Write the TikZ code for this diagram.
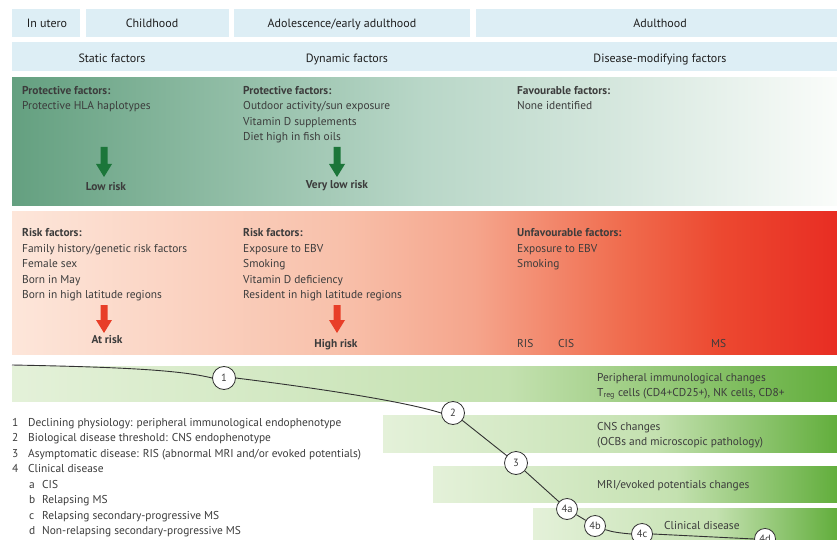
\documentclass[tikz,border=0pt]{standalone}
\usepackage{fontspec}
\setmainfont{PT Sans}
\usetikzlibrary{calc}
\definecolor{hdr}{RGB}{221,238,245}
\definecolor{hdrtxt}{RGB}{30,30,30}
\definecolor{txt}{RGB}{60,60,60}
\definecolor{gp1}{RGB}{100,160,128}
\definecolor{gp2}{RGB}{185,215,200}
\definecolor{gp3}{RGB}{250,252,250}
\definecolor{rp1}{RGB}{253,230,218}
\definecolor{rp2}{RGB}{248,192,170}
\definecolor{rp3}{RGB}{245,165,140}
\definecolor{rp4}{RGB}{240,108,78}
\definecolor{rp5}{RGB}{236,72,48}
\definecolor{rp6}{RGB}{232,45,35}
\definecolor{gb1}{RGB}{228,241,217}
\definecolor{gb2}{RGB}{196,225,176}
\definecolor{gb3}{RGB}{98,174,60}
\definecolor{garrow}{RGB}{28,118,58}
\definecolor{rarrow}{RGB}{232,62,40}
\definecolor{curve}{RGB}{50,50,50}
\pgfdeclarehorizontalshading{gpanel}{100bp}{color(0bp)=(gp1); color(25bp)=(gp1); color(50bp)=(gp2); color(62bp)=(gp2!55!gp3); color(75bp)=(gp3); color(100bp)=(gp3)}
\pgfdeclarehorizontalshading{rpanel}{100bp}{color(0bp)=(rp1); color(25bp)=(rp1); color(45bp)=(rp2); color(53bp)=(rp3); color(62bp)=(rp4); color(68bp)=(rp5); color(75bp)=(rp6); color(100bp)=(rp6)}
\pgfdeclarehorizontalshading{gbar}{100bp}{color(0bp)=(gb1); color(25bp)=(gb1); color(55bp)=(gb2); color(75bp)=(gb3); color(100bp)=(gb3)}
\newcommand\hfont{\fontsize{12}{14}\selectfont}
\newcommand\bfont{\fontsize{11.4}{13}\selectfont}
\newcommand\cfont{\fontsize{10.5}{12}\selectfont}
\begin{document}
\begin{tikzpicture}[x=1pt,y=-1pt,
  hbox/.style={fill=hdr, draw=none, inner sep=0, anchor=north west},
  htext/.style={inner sep=0, anchor=base, text=hdrtxt, font=\hfont},
  panel/.style={draw=none, inner sep=0, anchor=north west},
  tl/.style={inner sep=0, anchor=base west, text=txt, font=\bfont},
  tb/.style={inner sep=0, anchor=base west, text=txt, font=\bfont\bfseries},
  tc/.style={inner sep=0, anchor=base, text=txt, font=\bfont\bfseries},
  stage/.style={circle, draw=curve, fill=white, line width=0.8pt, inner sep=0, minimum size=#1, text=txt, font=\cfont},
  stage/.default=23pt,
  conn/.style={draw=curve, line width=0.9pt},
  garr/.pic={\fill[garrow] (-3.5,0) -- (3.5,0) -- (3.5,17) -- (8,17) -- (0,30) -- (-8,17) -- (-3.5,17) -- cycle;},
  rarr/.pic={\fill[rarrow] (-3.5,0) -- (3.5,0) -- (3.5,15) -- (8,15) -- (0,28) -- (-8,15) -- (-3.5,15) -- cycle;}
]
\useasboundingbox (0,0) rectangle (837,540);
\fill[white] (0,0) rectangle (837,540);
% header row 1
\node[hbox, minimum width=68pt, minimum height=28pt] (hu) at (12,9) {};
\node[hbox, minimum width=143pt, minimum height=28pt] (hc) at (86,9) {};
\node[hbox, minimum width=236pt, minimum height=28pt] (ha) at (234,9) {};
\node[hbox, minimum width=361pt, minimum height=28pt] (hd) at (476,9) {};
\node[htext] (tu) at (47,28) {In utero};
\node[htext] (tc) at (152,28) {Childhood};
\node[htext] (ta) at (342,28) {Adolescence/early adulthood};
\node[htext] (td) at (660,28) {Adulthood};
% header row 2
\node[hbox, minimum width=825pt, minimum height=29pt] (h2) at (12,42) {};
\node[htext] (sf) at (112,63) {Static factors};
\node[htext] (df) at (347,63) {Dynamic factors};
\node[htext] (mf) at (660,63) {Disease-modifying factors};
% panels
\node[panel, shading=gpanel, minimum width=825pt, minimum height=128pt] (gpn) at (12,77) {};
\node[panel, shading=rpanel, minimum width=825pt, minimum height=143pt] (rpn) at (12,211) {};
% protective texts
\node[tb] (p1h) at (22,95) {Protective factors:};
\node[tl] (p1a) at (22,110) {Protective HLA haplotypes};
\node[tb] (p2h) at (243,95) {Protective factors:};
\node[tl] (p2a) at (243,110) {Outdoor activity/sun exposure};
\node[tl] (p2b) at (243,125.5) {Vitamin D supplements};
\node[tl] (p2c) at (243,141) {Diet high in fish oils};
\node[tb] (p3h) at (517,95) {Favourable factors:};
\node[tl] (p3a) at (517,110) {None identified};
\pic at (104,147) {garr};
\pic at (337,147) {garr};
\node[tc] (lr) at (106,190) {Low risk};
\node[tc] (vlr) at (337,188) {Very low risk};
% risk texts
\node[tb] (r1h) at (22,236.5) {Risk factors:};
\node[tl] (r1a) at (22,252) {Family history/genetic risk factors};
\node[tl] (r1b) at (22,267.5) {Female sex};
\node[tl] (r1c) at (22,283) {Born in May};
\node[tl] (r1d) at (22,298.5) {Born in high latitude regions};
\node[tb] (r2h) at (243,236.5) {Risk factors:};
\node[tl] (r2a) at (243,252) {Exposure to EBV};
\node[tl] (r2b) at (243,267.5) {Smoking};
\node[tl] (r2c) at (243,283) {Vitamin D deficiency};
\node[tl] (r2d) at (243,298.5) {Resident in high latitude regions};
\node[tb] (r3h) at (517,236.5) {Unfavourable factors:};
\node[tl] (r3a) at (517,252) {Exposure to EBV};
\node[tl] (r3b) at (517,267.5) {Smoking};
\pic at (104,305) {rarr};
\pic at (337,305) {rarr};
\node[tc] (ar) at (107,343) {At risk};
\node[tc] (hr) at (336,347) {High risk};
\node[tl] (ris) at (517,347) {RIS};
\node[tl] (cis) at (558,347) {CIS};
\node[tl] (ms) at (711,347) {MS};
% green bars
\node[panel, shading=gbar, minimum width=825pt, minimum height=35pt] (b1) at (12,366) {};
\node[panel, shading=gbar, minimum width=454pt, minimum height=37pt] (b2) at (383,415) {};
\node[panel, shading=gbar, minimum width=404pt, minimum height=36pt] (b3) at (433,466) {};
\node[panel, shading=gbar, minimum width=304pt, minimum height=40pt] (b4) at (533,508) {};
\node[tl] (b1a) at (597,381) {Peripheral immunological changes};
\node[tl] (b1b) at (597,396) {T\textsubscript{reg} cells (CD4+CD25+), NK cells, CD8+};
\node[tl] (b2a) at (597,430) {CNS changes};
\node[tl] (b2b) at (597,445) {(OCBs and microscopic pathology)};
\node[tl] (b3a) at (597,488) {MRI/evoked potentials changes};
\node[tl] (b4a) at (664,529) {Clinical disease};
% curve and stages
\coordinate (st) at (12,365);
\node[stage] (s1) at (224,378) {1};
\node[stage] (s2) at (453,413) {2};
\node[stage] (s3) at (516,463) {3};
\node[stage=21pt] (s4a) at (567,509) {4a};
\node[stage=21pt] (s4b) at (595,526) {4b};
\node[stage=21pt] (s4c) at (642,534) {4c};
\node[stage=21pt] (s4d) at (765,539) {4d};
\draw[conn] (st) .. controls (120,367) and (180,370) .. (s1.west);
\draw[conn] (s1.east) .. controls (300,386) and (400,400) .. (s2.west);
\draw[conn] (s2) -- (s3);
\draw[conn] (s3) -- (s4a);
\draw[conn] (s4a) -- (s4b);
\draw[conn] (s4b) .. controls (612,532) and (620,533) .. (s4c.west);
\draw[conn] (s4c.east) -- (s4d.west);
% legend
\node[tl] (n1) at (12,426) {1};
\node[tl] (l1) at (28,426) {Declining physiology: peripheral immunological endophenotype};
\node[tl] (n2) at (12,441.5) {2};
\node[tl] (l2) at (28,441.5) {Biological disease threshold: CNS endophenotype};
\node[tl] (n3) at (12,457) {3};
\node[tl] (l3) at (28,457) {Asymptomatic disease: RIS (abnormal MRI and/or evoked potentials)};
\node[tl] (n4) at (12,472.5) {4};
\node[tl] (l4) at (28,472.5) {Clinical disease};
\node[tl] (na) at (29,488) {a};
\node[tl] (la) at (42,488) {CIS};
\node[tl] (nb) at (29,503.5) {b};
\node[tl] (lb) at (42,503.5) {Relapsing MS};
\node[tl] (nc) at (29,519) {c};
\node[tl] (lc) at (42,519) {Relapsing secondary-progressive MS};
\node[tl] (nd) at (29,534.5) {d};
\node[tl] (ld) at (42,534.5) {Non-relapsing secondary-progressive MS};
\end{tikzpicture}
\end{document}
